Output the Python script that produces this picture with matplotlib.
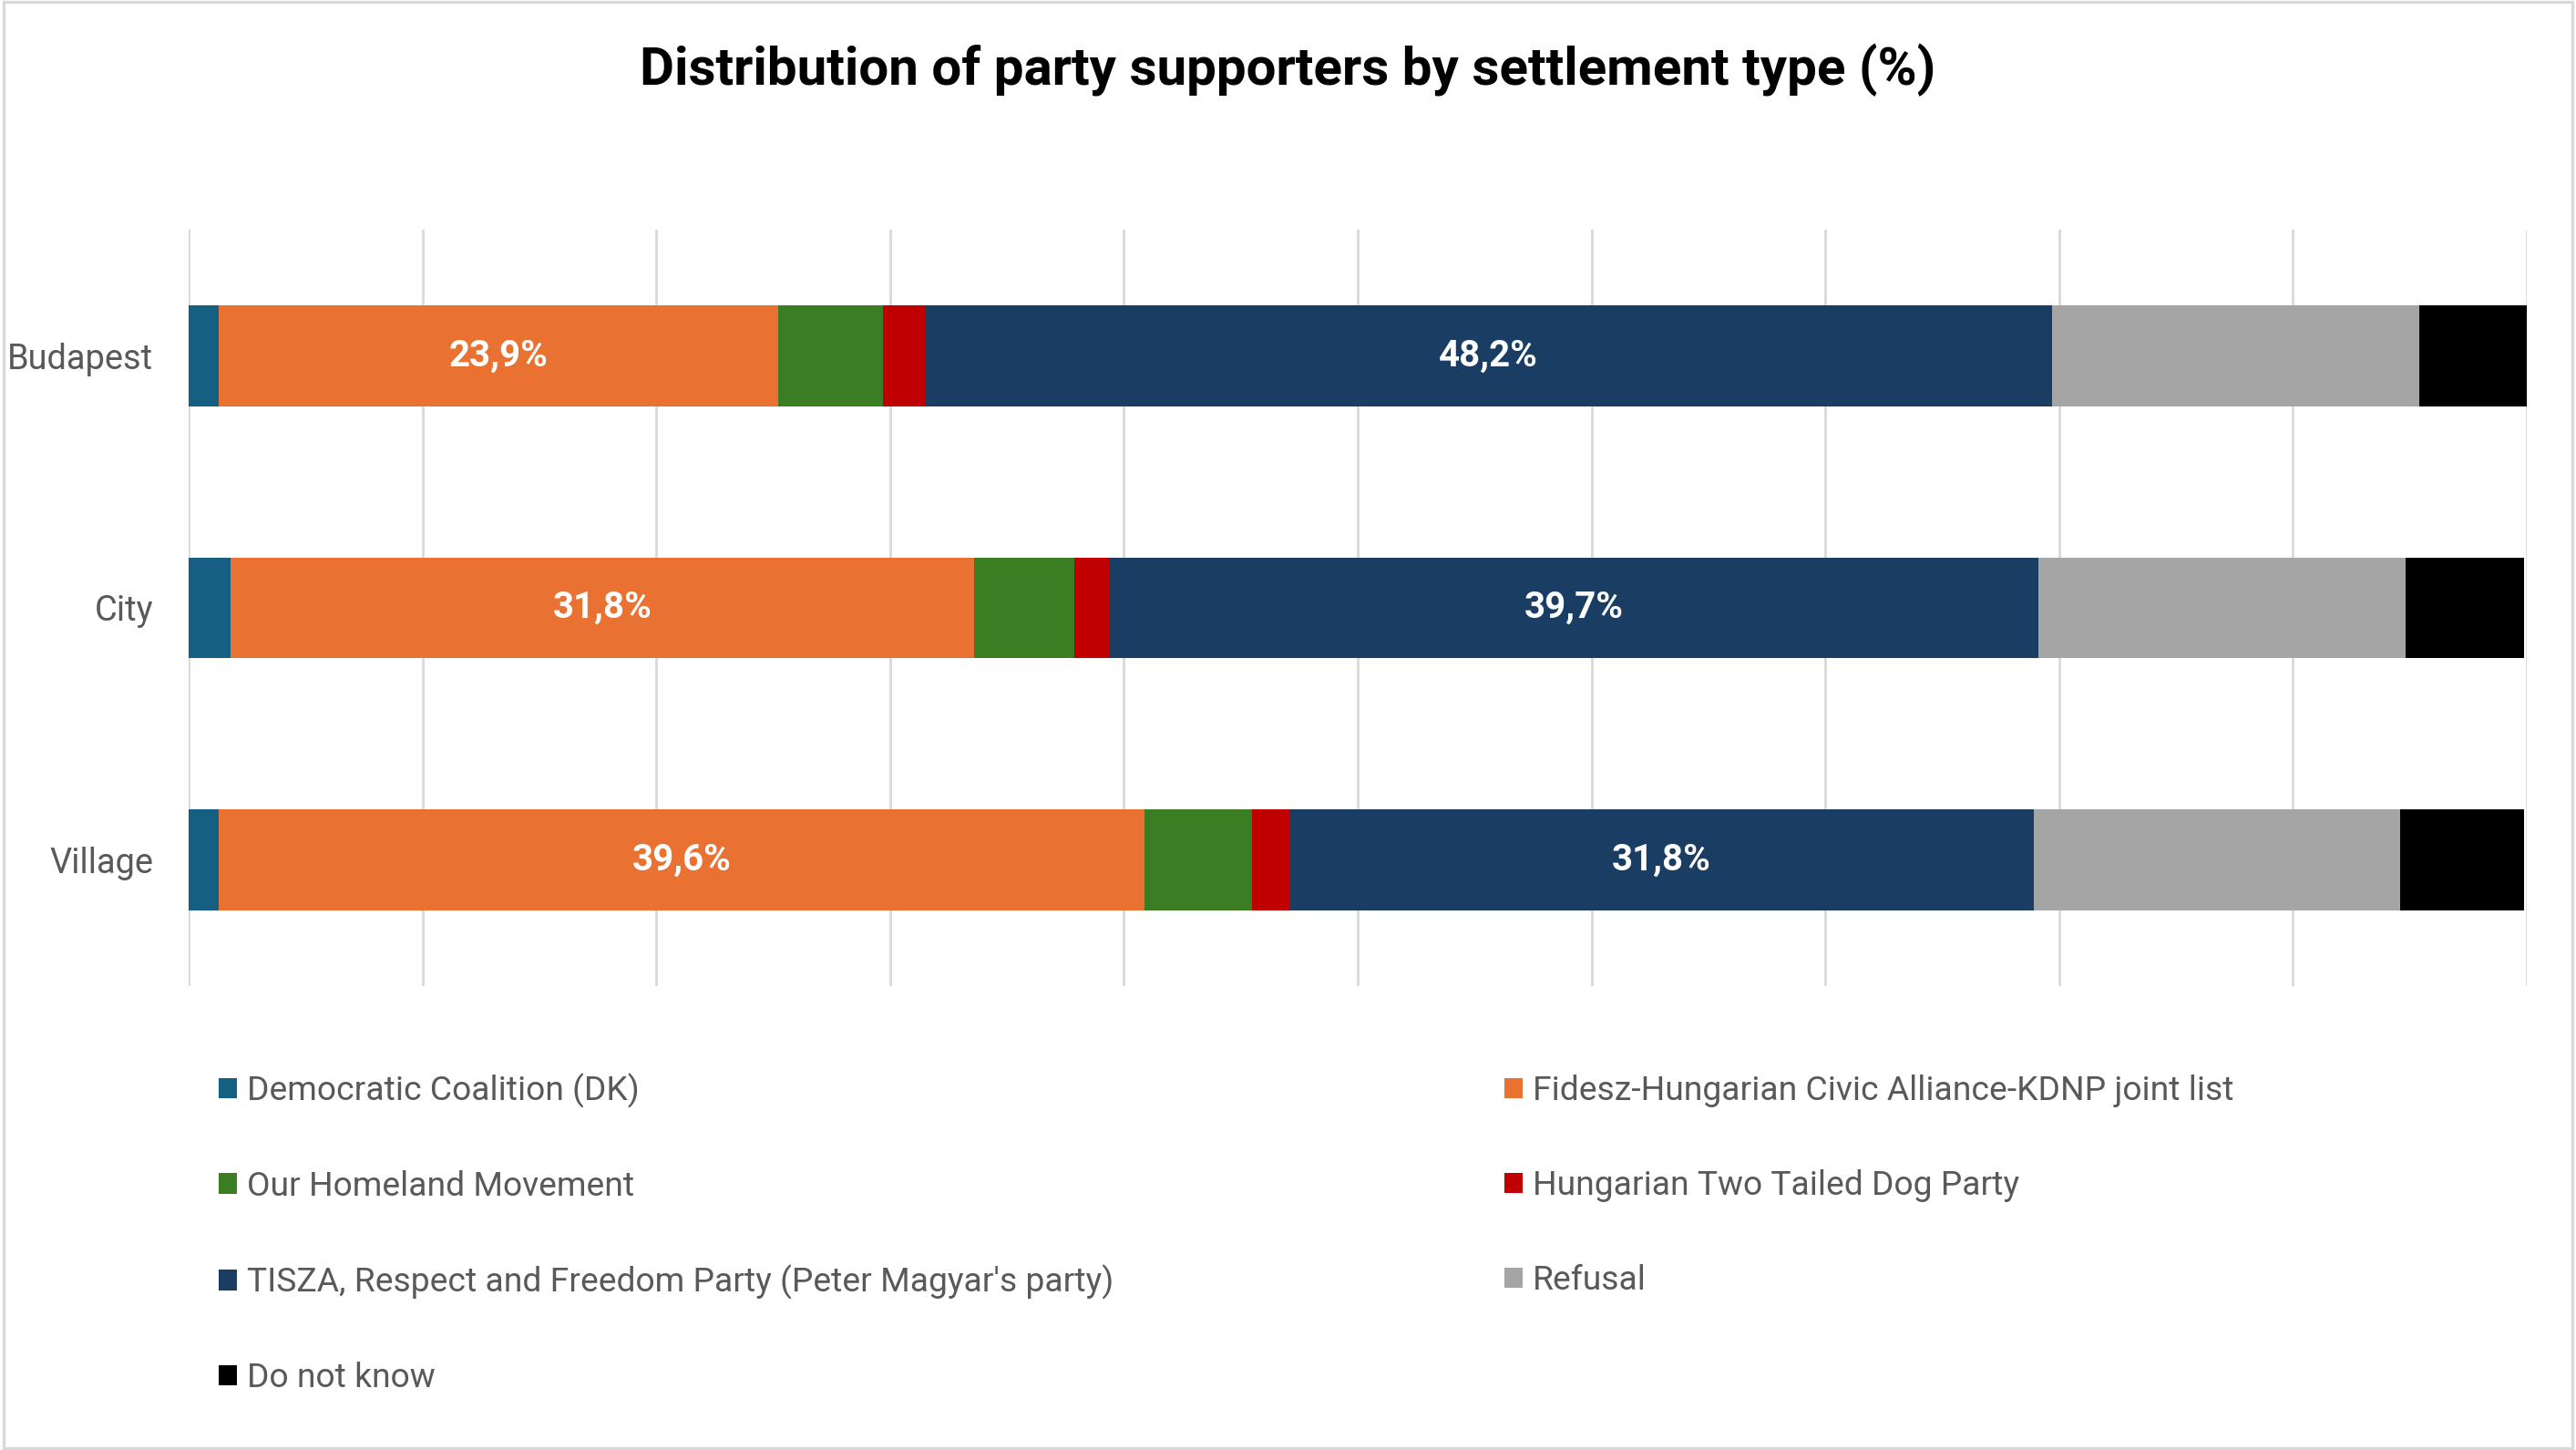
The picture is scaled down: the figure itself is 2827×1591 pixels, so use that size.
import numpy as np
import matplotlib
matplotlib.use("Agg")
import matplotlib.pyplot as plt
from matplotlib.patches import Patch, Rectangle

settlements = ["Budapest", "City", "Village"]
parties = [
    "Democratic Coalition (DK)",
    "Fidesz-Hungarian Civic Alliance-KDNP joint list",
    "Our Homeland Movement",
    "Hungarian Two Tailed Dog Party",
    "TISZA, Respect and Freedom Party (Peter Magyar's party)",
    "Refusal",
    "Do not know",
]
colors = ["#156082", "#E97132", "#3B7D23", "#C00000", "#193D63", "#A5A5A5", "#000000"]

# shares per settlement (Budapest, City, Village)
dk = [1.3, 1.8, 1.3]
fidesz = [23.9, 31.8, 39.6]
homeland = [4.5, 4.3, 4.6]
dog = [1.8, 1.5, 1.6]
tisza = [48.2, 39.7, 31.8]
refusal = [15.7, 15.7, 15.7]
dont_know = [4.6, 5.1, 5.3]
series = [dk, fidesz, homeland, dog, tisza, refusal, dont_know]
labelled = {1, 4}  # only the two big parties get data labels

plt.rcParams["font.family"] = ["Roboto", "DejaVu Sans"]
TEXT = "#595959"

fig = plt.figure(figsize=(14.135, 7.955), dpi=200)
ax = fig.add_axes([0.0732, 0.32, 0.9077, 0.5216])

y = np.arange(len(settlements))
left = np.zeros(len(settlements))
for i, (vals, col) in enumerate(zip(series, colors)):
    vals = np.array(vals)
    ax.barh(y, vals, left=left, height=0.4, color=col, zorder=3, label=parties[i])
    if i in labelled:
        for yi, (l, v) in enumerate(zip(left, vals)):
            ax.text(l + v / 2, yi, f"{v:.1f}%".replace(".", ","), ha="center", va="center",
                    color="white", fontsize=14.5, fontweight="bold", zorder=4)
    left += vals

ax.set_xlim(0, 100)
ax.set_ylim(2.5, -0.5)
ax.set_xticks(np.arange(0, 101, 10))
ax.set_xticklabels([])
ax.set_yticks(y)
ax.set_yticklabels(settlements, fontsize=13.7, color=TEXT)
ax.tick_params(axis="both", length=0)
ax.tick_params(axis="y", pad=14)
ax.grid(axis="x", color="#D9D9D9", lw=1.0, zorder=0)
for s in ax.spines.values():
    s.set_visible(False)

fig.text(0.5, 0.952, "Distribution of party supporters by settlement type (%)",
         ha="center", va="center", fontsize=21, fontweight="bold", color="black")

# Excel-style legend: row-major order over two columns
order = [0, 2, 4, 6, 1, 3, 5]
handles = [Patch(facecolor=colors[k], edgecolor="none") for k in order]
leg = fig.legend(handles, [parties[k] for k in order], ncol=2, loc="upper left",
                 bbox_to_anchor=(0.0848, 0.260), frameon=False, fontsize=13.4,
                 handlelength=0.55, handleheight=0.55, handletextpad=0.3,
                 labelspacing=1.83, columnspacing=11.5, borderaxespad=0,
                 borderpad=0)
for t in leg.get_texts():
    t.set_color(TEXT)

fig.patches.append(Rectangle((0.0015, 0.0015), 0.997, 0.997, transform=fig.transFigure,
                             fill=False, edgecolor="#D9D9D9", lw=1.2))

fig.savefig("out.png", dpi=200)
